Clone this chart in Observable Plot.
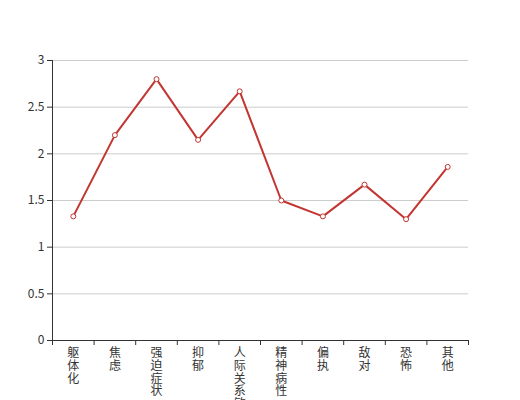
<!DOCTYPE html>
<html>
<head>
<meta charset="utf-8">
<script src="https://cdn.jsdelivr.net/npm/d3@7"></script>
<script src="https://cdn.jsdelivr.net/npm/@observablehq/plot@0.6"></script>
<style>
  html, body { margin: 0; padding: 0; background: #fff; }
  #chart { width: 520px; height: 400px; overflow: hidden; }
</style>
</head>
<body>
<div id="chart"></div>
<script>
const categories = ["躯体化", "焦虑", "强迫症状", "抑郁", "人际关系敏感", "精神病性", "偏执", "敌对", "恐怖", "其他"];
const values = [1.33, 2.2, 2.8, 2.15, 2.67, 1.5, 1.33, 1.67, 1.3, 1.86];
const yTicks = [0, 0.5, 1, 1.5, 2, 2.5, 3];

const data = categories.map((c, i) => ({category: c, pos: i + 0.5, value: values[i]}));
const boundaries = d3.range(0, categories.length + 1);
const labelPositions = categories.map((_, i) => i + 0.5);

const color = "#c23531";
const font = "'Noto Sans CJK SC', 'Noto Sans', sans-serif";

const chart = Plot.plot({
  width: 520,
  height: 400,
  marginLeft: 52,
  marginRight: 52,
  marginTop: 60,
  marginBottom: 60,
  style: {fontFamily: font, fontSize: "12px", color: "#333", background: "#fff", overflow: "visible"},
  x: {type: "linear", domain: [0, categories.length]},
  y: {domain: [0, 3]},
  marks: [
    Plot.gridY(yTicks, {stroke: "#ccc", strokeOpacity: 1}),
    Plot.axisY(yTicks, {tickSize: 5, tickPadding: 3, tickFormat: d => `${d}`, label: null, fontSize: 12, stroke: "#333", fill: "#333"}),
    Plot.axisX(boundaries, {tickSize: 5, tickFormat: () => "", label: null, stroke: "#333"}),
    Plot.axisX(labelPositions, {
      tickSize: 0, tickPadding: 8, label: null, fontSize: 12, lineHeight: 1.05, fill: "#333",
      tickFormat: p => categories[Math.floor(p)].split("").join("\n")
    }),
    Plot.ruleX([0], {y1: 0, y2: 3, stroke: "#333"}),
    Plot.ruleY([0], {stroke: "#333"}),
    Plot.line(data, {x: "pos", y: "value", stroke: color, strokeWidth: 2}),
    Plot.dot(data, {x: "pos", y: "value", r: 2.5, fill: "#fff", stroke: color, strokeWidth: 1})
  ]
});
document.getElementById("chart").appendChild(chart);
</script>
</body>
</html>
